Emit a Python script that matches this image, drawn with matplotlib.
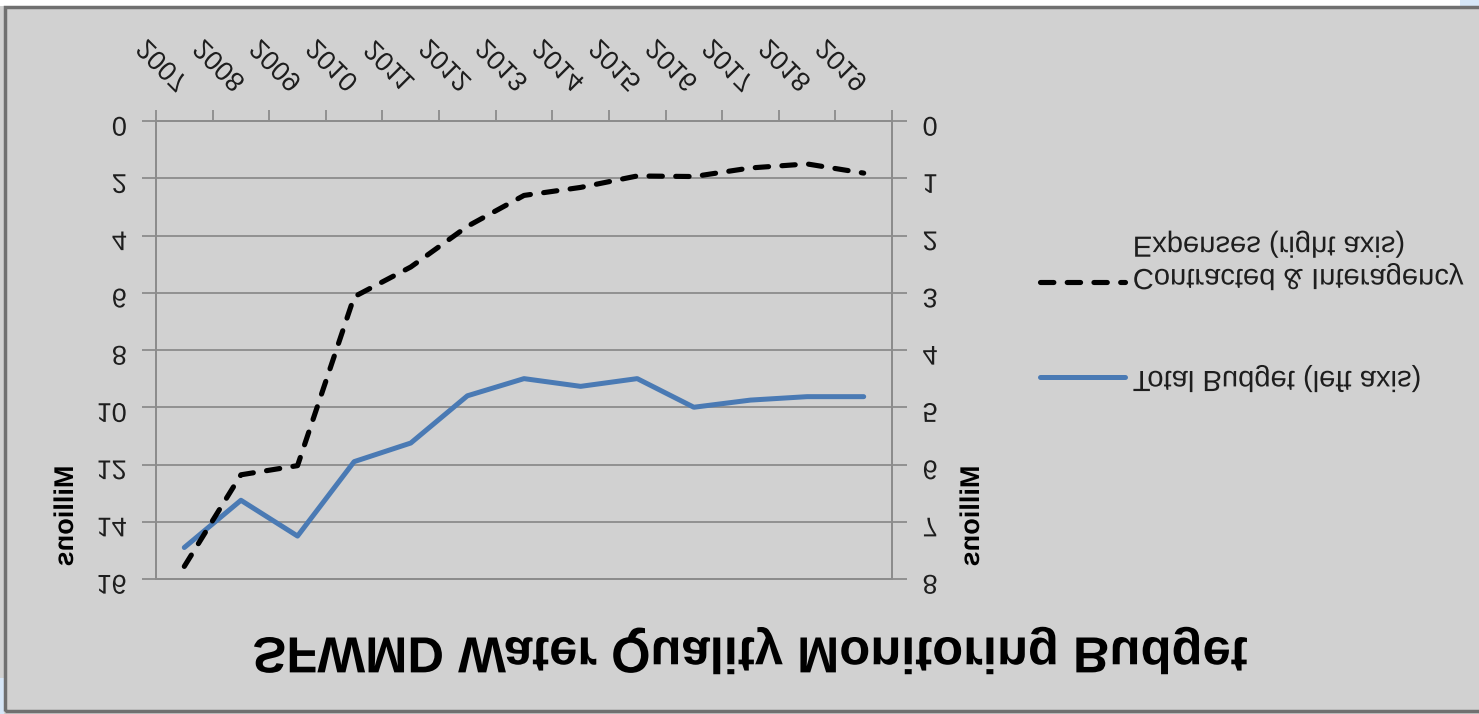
import matplotlib
matplotlib.use('Agg')
import matplotlib.pyplot as plt
import matplotlib.patheffects as pe
from matplotlib.text import Text
from matplotlib.transforms import Affine2D, ScaledTranslation
from matplotlib.patches import Rectangle
import numpy as np

years = ['2007', '2008', '2009', '2010', '2011', '2012', '2013',
         '2014', '2015', '2016', '2017', '2018', '2019']
# Millions of dollars (left axis)
total_budget = [14.9, 13.25, 14.5, 11.9, 11.25, 9.6, 9.0,
                9.27, 9.0, 10.0, 9.75, 9.63, 9.63]
# Millions of dollars (right axis)
contracted = [7.78, 6.18, 6.02, 3.07, 2.55, 1.84, 1.3,
              1.16, 0.96, 0.97, 0.82, 0.75, 0.91]

W, H = 1479, 714
BG = '#d1d1d1'
GRID = '#8c8c8c'
TXT = '#1e1e1e'
BLUE = '#4a7ab4'

plt.rcParams['font.family'] = ['Liberation Sans', 'DejaVu Sans']


class MirrorY(pe.AbstractPathEffect):
    # draws the text upside down, mirrored about the middle of its own box
    def __init__(self, text, shift=0):
        super().__init__()
        self.text = text
        self.shift = shift

    def draw_path(self, renderer, gc, tpath, affine, rgbFace=None):
        bb = self.text.get_window_extent(renderer)
        yc = (bb.y0 + bb.y1) / 2
        dy = renderer.points_to_pixels(self.shift)
        flip = Affine2D().scale(1, -1).translate(0, 2 * yc + dy)
        renderer.draw_path(gc, tpath, affine + flip, rgbFace)


fig = plt.figure(figsize=(W / 100, H / 100), dpi=100, facecolor=BG)

# frame of the original screenshot
fig.add_artist(Rectangle((0, 1 - 6 / H), 1, 6 / H, transform=fig.transFigure,
                         fc='white', ec='none'))
fig.add_artist(Rectangle((1460 / W, 1 - 6 / H), 19 / W, 6 / H, transform=fig.transFigure,
                         fc='#d6e6f7', ec='none'))
fig.add_artist(Rectangle((0, 0), 4 / W, 36 / H, transform=fig.transFigure,
                         fc='#d6e6f7', ec='none'))
fig.add_artist(Rectangle((5 / W, 1 - 711 / H), 1.2, (711 - 7) / H, transform=fig.transFigure,
                         fill=False, ec='#707070', lw=2.5))

ax = fig.add_axes([156 / W, 1 - 579 / H, (892 - 156) / W, (579 - 121) / H])
ax.set_facecolor('none')
x = np.arange(len(years))

blue, = ax.plot(x, total_budget, color=BLUE, lw=3.6,
                solid_joinstyle='round', solid_capstyle='round')
ax.set_xlim(-0.5, len(years) - 0.5)
ax.set_ylim(16, 0)
ax.set_yticks(np.arange(0, 17, 2))
ax.grid(axis='y', color=GRID, lw=1.3)
ax.set_axisbelow(True)

ax2 = ax.twinx()
dash, = ax2.plot(x, contracted, color='black', lw=3.7, dashes=(2.6, 2.6),
                 dash_capstyle='round', solid_joinstyle='round')
ax2.set_ylim(8, 0)
ax2.set_yticks(range(9))

for a in (ax, ax2):
    for s in a.spines.values():
        s.set_color(GRID)
        s.set_linewidth(1.3)

# x axis sits on top; tick marks on category borders, labels in the middle
ax.set_xticks(np.arange(-0.5, len(years)), labels=[])
ax.set_xticks(x, labels=years, minor=True)
ax.tick_params(axis='x', which='both', top=True, bottom=False,
               labeltop=True, labelbottom=False)
ax.tick_params(axis='x', which='major', length=8, width=1.3, color=GRID)
ax.tick_params(axis='x', which='minor', length=0, pad=19, labelsize=19.5,
               labelcolor=TXT, labelrotation=45)
ax.tick_params(axis='y', length=10, width=1.3, color=GRID, pad=11,
               labelsize=19.5, labelcolor=TXT)
ax2.tick_params(axis='y', length=11, width=1.3, color=GRID, pad=11,
                labelsize=19.5, labelcolor=TXT)

fig.text(751 / W, 1 - 651 / H, 'SFWMD Water Quality Monitoring Budget',
         ha='center', va='center', fontsize=36.5, fontweight='bold', color='black')
fig.text(66 / W, 1 - 516 / H, 'Millions', rotation=90, ha='center', va='center',
         fontsize=19.5, fontweight='bold', color='black')
fig.text(972 / W, 1 - 516 / H, 'Millions', rotation=90, ha='center', va='center',
         fontsize=19.5, fontweight='bold', color='black')

leg_kw = dict(loc='center left', frameon=False, fontsize=21, handlelength=2.91,
              handletextpad=0.27, borderpad=0, borderaxespad=0, labelcolor=TXT)
leg1 = fig.legend([dash], ['Contracted & Interagency\nExpenses (right axis)'],
                  bbox_to_anchor=(1040 / W, 1 - 281 / H), **leg_kw)
leg2 = fig.legend([blue], ['Total Budget (left axis)'],
                  bbox_to_anchor=(1040 / W, 1 - 379 / H), **leg_kw)

fig.canvas.draw()
nudge = ScaledTranslation(7 / 72, 0, fig.dpi_scale_trans)
for t in ax.xaxis.get_minor_ticks():
    t.label2.set_horizontalalignment('right')
    t.label2.set_verticalalignment('bottom')
    t.label2.set_transform(t.label2.get_transform() + nudge)

for t in fig.findobj(Text):
    if t.get_text():
        t.set_path_effects([MirrorY(t)])
for t in leg1.get_texts():
    t.set_path_effects([MirrorY(t, shift=14.5)])

fig.savefig('out.png', dpi=100, facecolor=BG)
